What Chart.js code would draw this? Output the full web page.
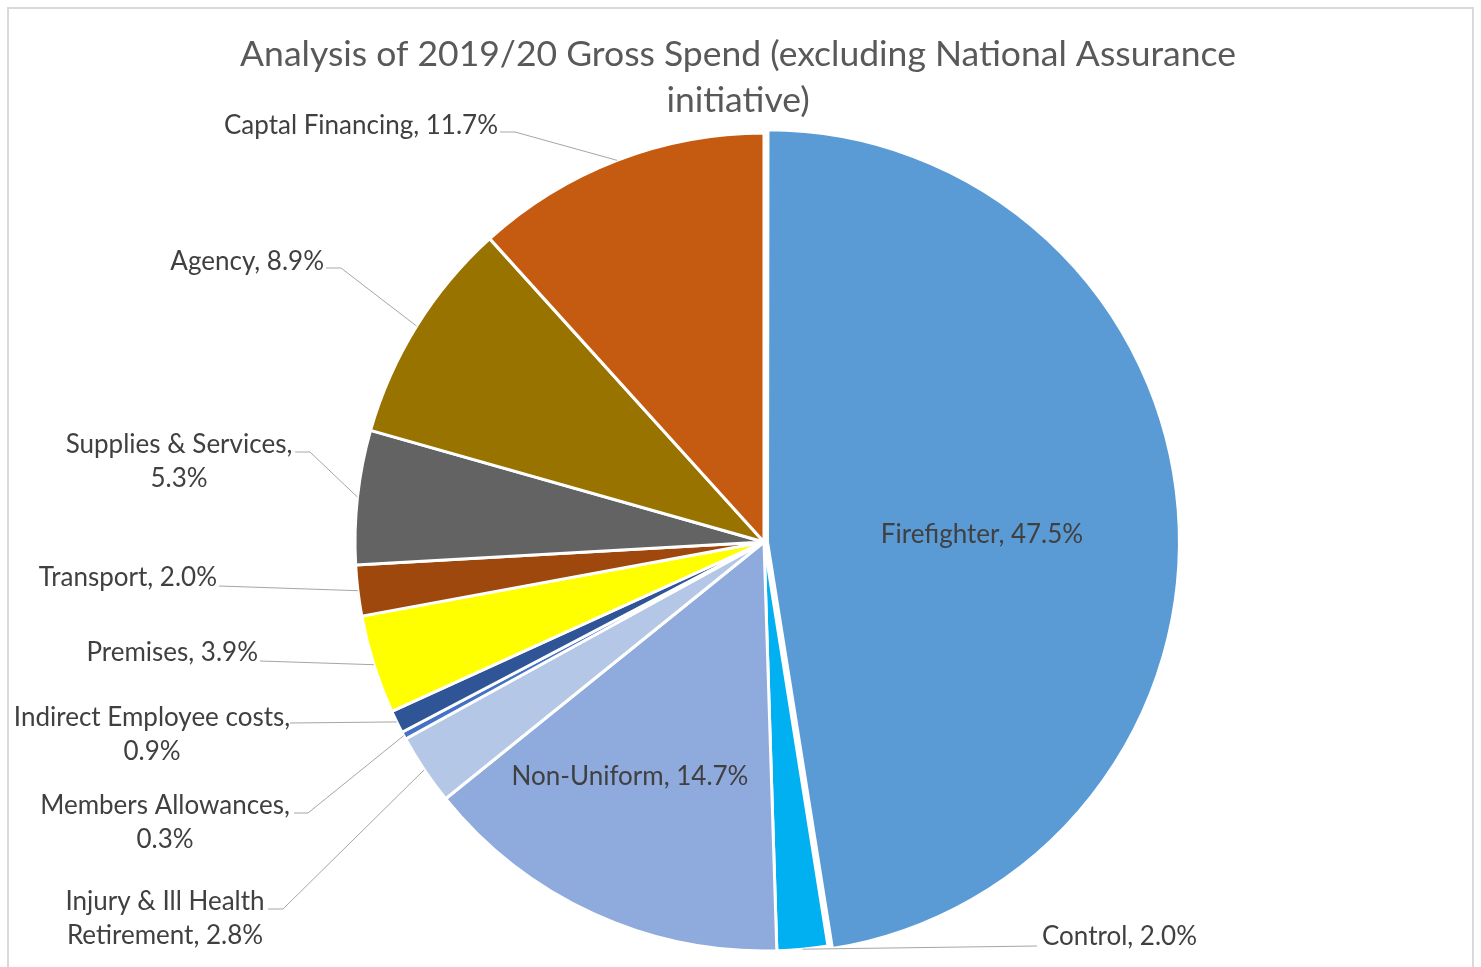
<!DOCTYPE html>
<html>
<head>
<meta charset="utf-8">
<title>Analysis of 2019/20 Gross Spend</title>
<script src="https://cdn.jsdelivr.net/npm/chart.js@4.4.1/dist/chart.umd.min.js"></script>
<style>
  html, body { margin: 0; padding: 0; background: #ffffff; }
  canvas { display: block; }
</style>
</head>
<body>
<canvas id="spendChart" width="1481" height="967"></canvas>
<script>
// data
const titleLines = ['Analysis of 2019/20 Gross Spend (excluding National Assurance', 'initiative)'];
const categories = ['Firefighter', 'Control', 'Non-Uniform', 'Injury & Ill Health Retirement', 'Members Allowances',
    'Indirect Employee costs', 'Premises', 'Transport', 'Supplies & Services', 'Agency', 'Captal Financing'];
const shares = [47.5, 2.0, 14.7, 2.8, 0.3, 0.9, 3.9, 2.0, 5.3, 8.9, 11.7];
const sliceColors = ['#5B9BD5', '#00B0F0', '#8FAADC', '#B4C7E7', '#4472C4', '#2F5597',
    '#FFFF00', '#9E480E', '#636363', '#997300', '#C55A11'];

// where each data label sits (layout only)
const labelLayout = [
    { x: 982, y: 535, align: 'center', inside: true },
    { x: 1042, y: 937, align: 'left', lead: [[1037, 946]] },
    { x: 630, y: 777, align: 'center', inside: true },
    { x: 165, y: 902, align: 'center', wrap: 'Health', lead: [[268, 909], [283, 909]] },
    { x: 165, y: 806, align: 'center', wrap: ',', lead: [[294, 813], [308, 813]] },
    { x: 152, y: 718, align: 'center', wrap: ',', lead: [[290, 723]] },
    { x: 258, y: 653, align: 'right', lead: [[260, 661]] },
    { x: 217, y: 578, align: 'right', lead: [[219, 586]] },
    { x: 179, y: 445, align: 'center', wrap: ',', lead: [[295, 452], [310, 452]] },
    { x: 324, y: 262, align: 'right', lead: [[326, 268], [341, 268]] },
    { x: 498, y: 126, align: 'right', lead: [[500, 132], [515, 132]] }
];

const FONT = 'Lato, "Open Sans", sans-serif';

function labelText(i) {
    const full = categories[i] + ', ' + shares[i].toFixed(1) + '%';
    const w = labelLayout[i].wrap;
    if (!w) return [full];
    const cut = full.indexOf(w) + w.length;
    return [full.slice(0, cut), full.slice(cut).trim()];
}

const frameAndLabels = {
    id: 'frameAndLabels',
    beforeDraw(chart) {
        const ctx = chart.ctx;
        ctx.save();
        ctx.fillStyle = '#ffffff';
        ctx.fillRect(0, 0, chart.width, chart.height);
        ctx.strokeStyle = '#D9D9D9';
        ctx.lineWidth = 2;
        ctx.strokeRect(8, 8, 1465, 975);
        // title
        ctx.fillStyle = '#595959';
        ctx.font = '35.5px ' + FONT;
        ctx.textAlign = 'center';
        ctx.textBaseline = 'middle';
        titleLines.forEach((t, k) => ctx.fillText(t, 738, 55 + k * 46));
        ctx.restore();
    },
    afterDatasetsDraw(chart) {
        const ctx = chart.ctx;
        const arcs = chart.getDatasetMeta(0).data;
        ctx.save();
        ctx.font = '26px ' + FONT;
        ctx.textBaseline = 'middle';
        arcs.forEach((arc, i) => {
            const lay = labelLayout[i];
            const lines = labelText(i);
            if (!lay.inside) {
                const p = arc.getProps(['x', 'y', 'startAngle', 'endAngle', 'outerRadius'], true);
                const mid = (p.startAngle + p.endAngle) / 2;
                const ax = p.x + Math.cos(mid) * p.outerRadius;
                const ay = p.y + Math.sin(mid) * p.outerRadius;
                ctx.strokeStyle = '#A6A6A6';
                ctx.lineWidth = 1;
                ctx.beginPath();
                ctx.moveTo(lay.lead[0][0], lay.lead[0][1]);
                lay.lead.slice(1).forEach(pt => ctx.lineTo(pt[0], pt[1]));
                ctx.lineTo(ax, ay);
                ctx.stroke();
            }
            ctx.fillStyle = '#404040';
            ctx.textAlign = lay.align;
            lines.forEach((t, k) => ctx.fillText(t, lay.x, lay.y + k * 34));
        });
        ctx.restore();
    }
};

// firefighter slice is pulled out a little
const offsets = shares.map((v, i) => (i === 0 ? 14 : 0));

new Chart(document.getElementById('spendChart'), {
    type: 'pie',
    plugins: [frameAndLabels],
    data: {
        labels: categories,
        datasets: [{
            data: shares,
            backgroundColor: sliceColors,
            borderColor: '#ffffff',
            borderWidth: 3,
            offset: offsets
        }]
    },
    options: {
        responsive: false,
        animation: false,
        radius: 409,
        layout: {
            padding: { left: 344, right: 297, top: 122, bottom: 5 }
        },
        plugins: {
            legend: { display: false },
            title: { display: false },
            tooltip: { enabled: false }
        }
    }
});
</script>
</body>
</html>
